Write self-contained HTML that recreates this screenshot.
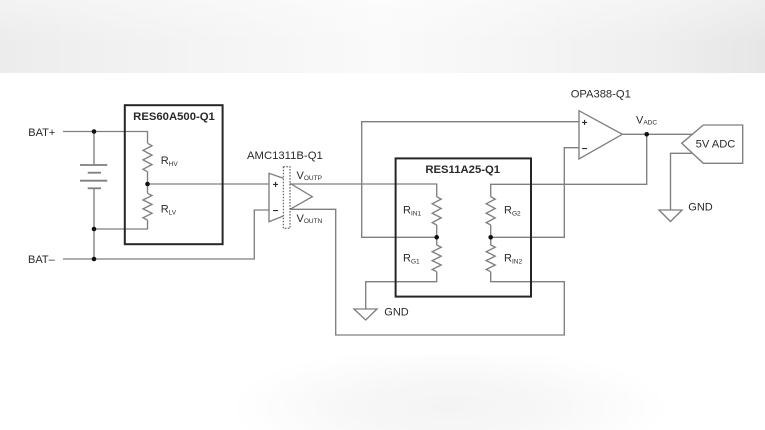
<!DOCTYPE html>
<html>
<head>
<meta charset="utf-8">
<style>
  html, body { margin:0; padding:0; background:#ffffff; width:765px; height:430px; overflow:hidden; }
  #wrap { position:relative; width:765px; height:430px; overflow:hidden; background:#ffffff; }
  #topband { position:absolute; left:0; top:0; width:765px; height:73px;
    background: linear-gradient(90deg, #ececec 0%, #f1f1f1 15%, #f6f6f6 35%, #fafafa 50%, #f6f6f6 65%, #efefef 85%, #e6e6e6 100%); }
  #topfade { position:absolute; left:0; top:0; width:765px; height:73px;
    background: linear-gradient(180deg, rgba(255,255,255,0.35) 0%, rgba(255,255,255,0) 60%); }
  #botpatch { position:absolute; left:230px; top:355px; width:440px; height:75px;
    background: radial-gradient(ellipse 50% 80% at 50% 70%, #f4f4f4 0%, #f7f7f7 45%, #ffffff 100%); }
  svg { position:absolute; left:0; top:0; }
  text { font-family: "Liberation Sans", Arial, sans-serif; fill:#2a2a2a; }
</style>
</head>
<body>
<div id="wrap">
  <div id="topband"></div>
  <div id="topfade"></div>
  <div id="botpatch"></div>
  <svg width="765" height="430" viewBox="0 0 765 430" xmlns="http://www.w3.org/2000/svg">
    <g fill="none" stroke="#7f7f7f" stroke-width="1.35" stroke-linejoin="miter">
      <!-- BAT+ line and divider -->
      <polyline points="63,131.5 147.5,131.5 147.5,143.3"/>
      <polyline points="147.5,143.3 152,145.7 143,150.4 152,155.1 143,159.9 152,164.6 143,169.3 147.5,171.7"/>
      <polyline points="147.5,171.7 147.5,193.3"/>
      <polyline points="147.5,193.3 152,195.5 143,200 152,204.4 143,208.9 152,213.3 143,217.8 147.5,220"/>
      <polyline points="147.5,220 147.5,229 94,229"/>
      <!-- battery verticals -->
      <line x1="94" y1="131.5" x2="94" y2="165"/>
      <line x1="94" y1="188.3" x2="94" y2="259"/>
      <!-- BAT- -->
      <polyline points="63,259 254.3,259 254.3,210 269,210"/>
      <!-- divider node to AMC + -->
      <line x1="147.5" y1="184" x2="269" y2="184"/>
      <!-- VOUTP path -->
      <polyline points="290,184 436.7,184 436.7,196.7"/>
      <polyline points="436.7,196.7 441.2,199.1 432.2,203.8 441.2,208.5 432.2,213.2 441.2,217.9 432.2,222.6 436.7,225"/>
      <line x1="436.7" y1="225" x2="436.7" y2="245"/>
      <polyline points="436.7,245 441.2,247.2 432.2,251.7 441.2,256.1 432.2,260.6 441.2,265 432.2,269.5 436.7,271.7"/>
      <polyline points="436.7,271.7 436.7,281.7 365.7,281.7 365.7,308.5"/>
      <!-- feedback to OPA + -->
      <polyline points="436.7,237.3 361.7,237.3 361.7,121.7 579,121.7"/>
      <!-- VOUTN path -->
      <polyline points="290,209.3 335.7,209.3 335.7,335 564.3,335 564.3,281.7 490.7,281.7 490.7,271.7"/>
      <polyline points="490.7,245 495.2,247.2 486.2,251.7 495.2,256.1 486.2,260.6 495.2,265 486.2,269.5 490.7,271.7"/>
      <line x1="490.7" y1="225" x2="490.7" y2="245"/>
      <polyline points="490.7,196.7 495.2,199.1 486.2,203.8 495.2,208.5 486.2,213.2 495.2,217.9 486.2,222.6 490.7,225"/>
      <polyline points="490.7,196.7 490.7,184.3 646.7,184.3 646.7,134.3"/>
      <!-- RG2 node to OPA - -->
      <polyline points="490.7,237.3 564.3,237.3 564.3,147.7 579,147.7"/>
      <!-- OPA output -->
      <line x1="622.3" y1="134.3" x2="692.3" y2="134.3"/>
      <!-- ADC GND -->
      <polyline points="691.7,153.3 670.5,153.3 670.5,210"/>
      <!-- GND symbols -->
      <polygon points="354,309 377,309 365.7,320"/>
      <polygon points="659,210 682,210 670.5,221.5"/>
      <!-- AMC input triangle (clipped by barrier) -->
      <polyline points="283.3,178.3 269,173.3 269,221.7 283.3,216"/>
      <!-- AMC output triangle -->
      <polyline points="290,183.3 312.3,196.7 290,209.3"/>
      <!-- OPA388 triangle -->
      <polygon points="579,110.7 579,159 622.3,134.3"/>
      <!-- ADC shape -->
      <polygon points="703.3,125 742.7,125 742.7,163.3 703.3,163.3 681.7,143.3"/>
    </g>
    <!-- battery plates -->
    <g stroke="#7f7f7f" stroke-width="1.8">
      <line x1="80" y1="165" x2="107.3" y2="165"/>
      <line x1="87.7" y1="172.7" x2="101" y2="172.7"/>
      <line x1="80" y1="180.7" x2="107.3" y2="180.7"/>
      <line x1="87.7" y1="188.3" x2="101" y2="188.3"/>
    </g>
    <!-- isolation barrier -->
    <rect x="283.3" y="166.7" width="6.7" height="61.6" fill="none" stroke="#444" stroke-width="1" stroke-dasharray="1.6,1.4"/>
    <!-- boxes -->
    <rect x="124.8" y="105.2" width="97.8" height="139" fill="none" stroke="#262626" stroke-width="2"/>
    <rect x="395.6" y="158.4" width="135.4" height="138.2" fill="none" stroke="#262626" stroke-width="2"/>
    <!-- dots -->
    <g fill="#111">
      <circle cx="94" cy="131.5" r="2.3"/>
      <circle cx="94" cy="229" r="2.3"/>
      <circle cx="94" cy="259" r="2.3"/>
      <circle cx="147.5" cy="184" r="2.3"/>
      <circle cx="436.7" cy="237.3" r="2.3"/>
      <circle cx="490.7" cy="237.3" r="2.3"/>
      <circle cx="646.7" cy="134.3" r="2.3"/>
    </g>
    <!-- text -->
    <text x="28.3" y="136" font-size="11">BAT+</text>
    <text x="28" y="263" font-size="11">BAT–</text>
    <text x="174" y="120" font-size="11.3" font-weight="bold" text-anchor="middle" fill="#1e1e1e">RES60A500-Q1</text>
    <text x="462.7" y="173" font-size="11.3" font-weight="bold" text-anchor="middle" fill="#1e1e1e">RES11A25-Q1</text>
    <text x="247" y="159" font-size="11.3">AMC1311B-Q1</text>
    <text x="570.7" y="97.3" font-size="11.2">OPA388-Q1</text>
    <text x="160.7" y="164" font-size="11">R<tspan font-size="6.5" dy="2">HV</tspan></text>
    <text x="160.7" y="212.3" font-size="11">R<tspan font-size="6.5" dy="2">LV</tspan></text>
    <text x="296.5" y="179" font-size="11">V<tspan font-size="6.5" dy="1">OUTP</tspan></text>
    <text x="296.5" y="222" font-size="11">V<tspan font-size="6.5" dy="1">OUTN</tspan></text>
    <text x="636" y="123.3" font-size="11">V<tspan font-size="6.5" dy="1">ADC</tspan></text>
    <text x="403" y="213.3" font-size="11">R<tspan font-size="6.5" dy="2">IN1</tspan></text>
    <text x="403" y="261.3" font-size="11">R<tspan font-size="6.5" dy="2">G1</tspan></text>
    <text x="504" y="213.3" font-size="11">R<tspan font-size="6.5" dy="2">G2</tspan></text>
    <text x="504" y="261.3" font-size="11">R<tspan font-size="6.5" dy="2">IN2</tspan></text>
    <text x="384.3" y="315.7" font-size="11">GND</text>
    <text x="688.3" y="210.7" font-size="11">GND</text>
    <text x="715.5" y="147.3" font-size="11.2" text-anchor="middle">5V ADC</text>
    <!-- op amp signs -->
    <text x="275.5" y="188" font-size="10" font-weight="bold" text-anchor="middle">+</text>
    <text x="275.5" y="214" font-size="10" font-weight="bold" text-anchor="middle">−</text>
    <text x="584.5" y="126" font-size="10" font-weight="bold" text-anchor="middle">+</text>
    <text x="584.5" y="152" font-size="10" font-weight="bold" text-anchor="middle">−</text>
  </svg>
</div>
</body>
</html>
